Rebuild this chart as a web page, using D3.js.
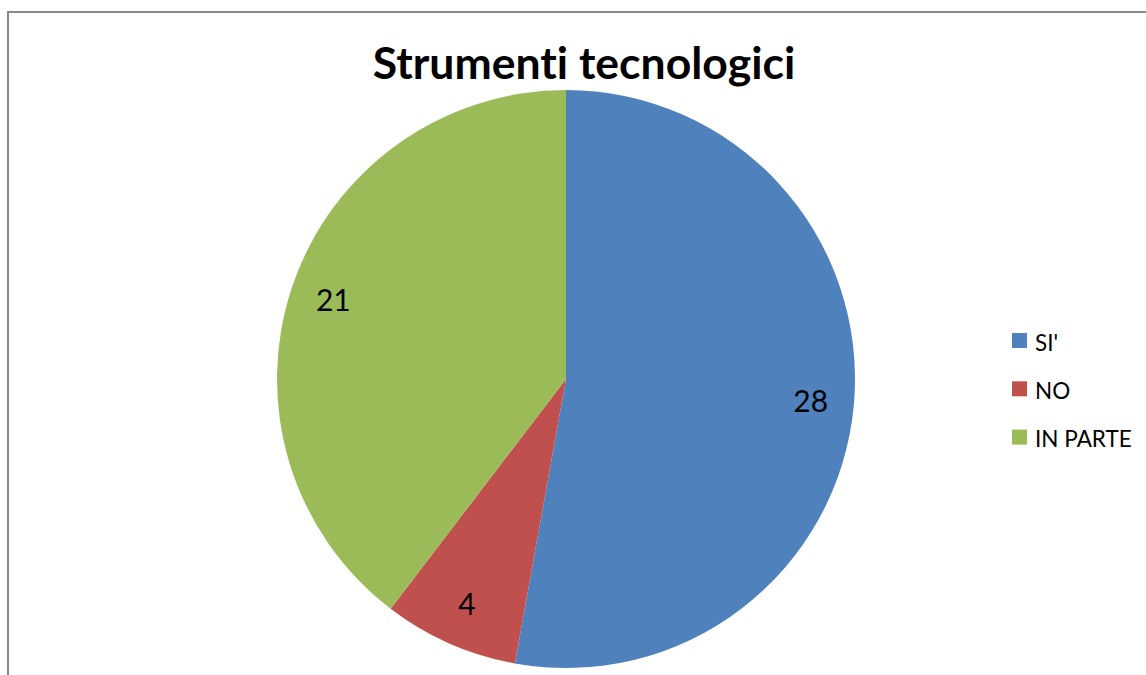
<!DOCTYPE html>
<html><head><meta charset="utf-8">
<script src="https://cdn.jsdelivr.net/npm/d3@7"></script>
<style>body{margin:0;background:#fff;}svg{display:block;}text{font-variant-ligatures:none;}</style>
</head><body>
<svg id="chart" width="1146" height="675"></svg>
<script>
const categories = ["SI'", "NO", "IN PARTE"];
const values = [28, 4, 21];
const colors = ["#4F81BD", "#C0504D", "#9BBB59"];
const title = "Strumenti tecnologici";

const svg = d3.select("#chart");
const font = "Lato, 'Open Sans', sans-serif";

// outer border
svg.append("rect").attr("x", 8).attr("y", 12).attr("width", 1200).attr("height", 700)
  .attr("fill", "#fff").attr("stroke", "#888").attr("stroke-width", 2);

svg.append("text").attr("x", 584).attr("y", 79).attr("text-anchor", "middle")
  .attr("font-family", font).attr("font-weight", "bold").attr("font-size", 44.5)
  .attr("fill", "#000").text(title);

const cx = 566, cy = 379, r = 289;
const pie = d3.pie().sort(null).value(d => d)(values);
const arc = d3.arc().innerRadius(0).outerRadius(r);
const labelArc = d3.arc().innerRadius(r * 0.85).outerRadius(r * 0.85);
const color = d3.scaleOrdinal().domain(categories).range(colors);

const g = svg.append("g").attr("transform", `translate(${cx},${cy})`);
g.selectAll("path").data(pie).join("path")
  .attr("d", arc).attr("fill", (d, i) => color(categories[i]));

g.selectAll("text.lbl").data(pie).join("text").attr("class", "lbl")
  .attr("transform", d => `translate(${labelArc.centroid(d)})`)
  .attr("text-anchor", "middle").attr("dy", "0.36em")
  .attr("font-family", font).attr("font-size", 30).attr("fill", "#000")
  .text(d => d.data);

const legend = svg.append("g").attr("transform", "translate(1012,340.5)");
const item = legend.selectAll("g").data(categories).join("g")
  .attr("transform", (d, i) => `translate(0,${i * 48.3})`);
item.append("rect").attr("x", 0).attr("y", -7.5).attr("width", 15).attr("height", 15)
  .attr("fill", d => color(d));
item.append("text").attr("x", 23).attr("y", 2).attr("dy", "0.36em")
  .attr("font-family", font).attr("font-size", 22.5).attr("fill", "#000").text(d => d);
</script>
</body></html>
